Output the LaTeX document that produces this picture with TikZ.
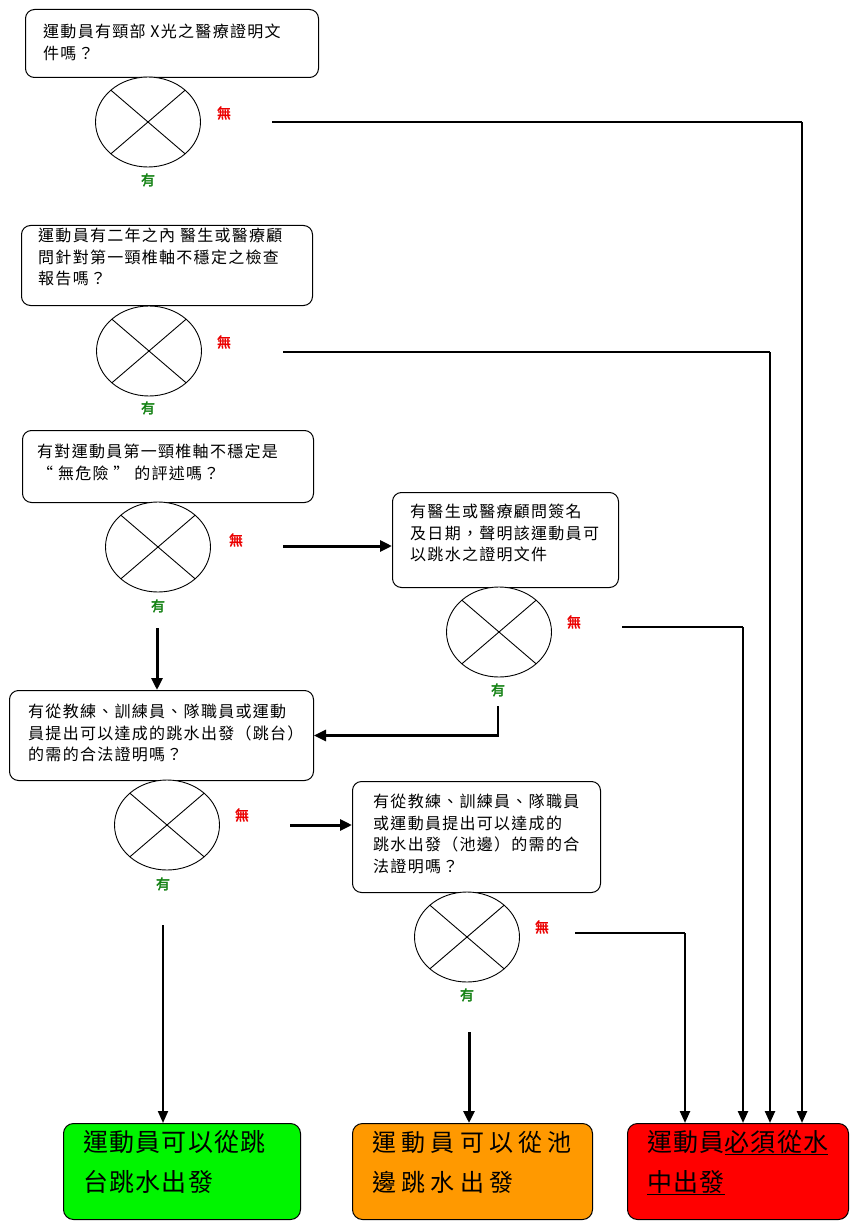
\documentclass[tikz,border=0pt]{standalone}
\usepackage{fontspec}
\setmainfont{Noto Sans CJK TC}
\newfontfamily\boxfont[LetterSpace=8]{Noto Sans CJK TC}
\newfontfamily\endfont[LetterSpace=5]{Noto Sans CJK TC}
\newfontfamily\widefont[LetterSpace=22]{Noto Sans CJK TC}
\newfontfamily\lblfont[FakeBold=2.5]{Noto Sans CJK TC}
\usetikzlibrary{arrows.meta,shapes.geometric}
\definecolor{okgreen}{RGB}{0,245,0}
\definecolor{midorange}{RGB}{255,153,0}
\definecolor{stopred}{RGB}{255,0,0}
\definecolor{yesgreen}{RGB}{20,130,20}
\definecolor{nored}{RGB}{235,0,0}
\begin{document}
\begin{tikzpicture}[x=1pt,y=-1pt,
 qbox/.style={draw, rounded corners=9pt, line width=1pt, fill=white, anchor=north west, inner sep=0pt},
 qtext/.style={anchor=north west, align=left, inner sep=0pt, font=\boxfont\fontsize{16}{21.5}\selectfont},
 endbox/.style={draw, rounded corners=10pt, line width=1pt, anchor=north west, inner sep=0pt},
 endtext/.style={anchor=north west, align=left, inner sep=0pt, font=\endfont\fontsize{25}{40}\selectfont},
 xcirc/.style={draw, ellipse, minimum width=105pt, minimum height=90pt, inner sep=0pt, line width=0.9pt, fill=white,
   path picture={\draw[line width=0.9pt] (path picture bounding box.north west) -- (path picture bounding box.south east)
     (path picture bounding box.north east) -- (path picture bounding box.south west);}},
 nolbl/.style={text=nored, font=\lblfont\fontsize{14}{14}\selectfont, inner sep=0pt},
 yeslbl/.style={text=yesgreen, font=\lblfont\fontsize{14}{14}\selectfont, inner sep=0pt},
 hline/.style={line width=1.3pt},
 varrow/.style={line width=2.4pt, -{Triangle[length=12pt,width=10pt]}},
 bigarrow/.style={line width=3pt, -{Triangle[length=12pt,width=11pt]}},
]
\fill[white] (0,0) rectangle (850,1222);
\useasboundingbox (0,0) rectangle (850,1222);

% question boxes
\node[qbox, minimum width=293pt, minimum height=68pt] (b1) at (25,9) {};
\node[qtext] (t1) at (43,24) {運動員有頸部 X光之醫療證明文\\件嗎？};
\node[qbox, minimum width=291pt, minimum height=80pt] (b2) at (21,225) {};
\node[qtext] (t2) at (38,228) {運動員有二年之內 醫生或醫療顧\\問針對第一頸椎軸不穩定之檢查\\報告嗎？};
\node[qbox, minimum width=291pt, minimum height=72pt] (b3) at (22,430) {};
\node[qtext] (t3) at (37,444) {有對運動員第一頸椎軸不穩定是\\“ 無危險 ” 的評述嗎？};
\node[qbox, minimum width=226pt, minimum height=95pt] (b4) at (392,492) {};
\node[qtext] (t4) at (410,504) {有醫生或醫療顧問簽名\\及日期，聲明該運動員可\\以跳水之證明文件};
\node[qbox, minimum width=304pt, minimum height=90pt] (b5) at (9,690) {};
\node[qtext] (t5) at (28,704) {有從教練、訓練員、隊職員或運動\\員提出可以達成的跳水出發（跳台）\\的需的合法證明嗎？};
\node[qbox, minimum width=248pt, minimum height=111pt] (b6) at (352,781) {};
\node[qtext] (t6) at (373,794) {有從教練、訓練員、隊職員\\或運動員提出可以達成的\\跳水出發（池邊）的需的合\\法證明嗎？};

% decision circles
\node[xcirc] (c1) at (148,122) {};
\node[xcirc] (c2) at (149,351) {};
\node[xcirc] (c3) at (158,547) {};
\node[xcirc] (c4) at (499,632) {};
\node[xcirc] (c5) at (167,825) {};
\node[xcirc] (c6) at (467,937) {};

% labels
\node[nolbl] (n1) at (224,113) {無};
\node[nolbl] (n2) at (224,342) {無};
\node[nolbl] (n3) at (236,540) {無};
\node[nolbl] (n4) at (574,622) {無};
\node[nolbl] (n5) at (242,815) {無};
\node[nolbl] (n6) at (542,927) {無};
\node[yeslbl] (y1) at (148,180) {有};
\node[yeslbl] (y2) at (148,408) {有};
\node[yeslbl] (y3) at (158,606) {有};
\node[yeslbl] (y4) at (498,690) {有};
\node[yeslbl] (y5) at (163,884) {有};
\node[yeslbl] (y6) at (467,995) {有};

% end boxes
\node[endbox, fill=okgreen, minimum width=237pt, minimum height=96pt] (g) at (63,1123) {};
\node[endtext] (gt) at (83,1130) {運動員可以從跳\\台跳水出發};
\node[endbox, fill=midorange, minimum width=240pt, minimum height=96pt] (o) at (352,1123) {};
\node[endtext, font=\widefont\fontsize{24}{40}\selectfont] (ot) at (372,1131) {運動員可以從池\\邊跳水出發};
\node[endbox, fill=stopred, minimum width=221pt, minimum height=96pt] (r) at (627,1123) {};
\node[endtext] (rt) at (647,1130) {運動員\underline{必須從水}\\\underline{中出發}};

% connector coordinates
\coordinate (s1) at (272,122);
\coordinate (k1) at (802,122);
\coordinate (s2) at (283,352);
\coordinate (k2) at (770,352);
\coordinate (s3) at (283,546);
\coordinate (s4) at (622,627);
\coordinate (k4) at (743,627);
\coordinate (s45) at (498,706);
\coordinate (s35) at (157,628);
\coordinate (s5) at (290,825);
\coordinate (s6) at (575,933);
\coordinate (k6) at (685,933);
\coordinate (sg) at (163,925);
\coordinate (so) at (469,1032);

% "no" paths to red box
\draw[hline] (s1) -- (k1);
\draw[varrow] (k1) -- (r.north -| k1);
\draw[hline] (s2) -- (k2);
\draw[varrow] (k2) -- (r.north -| k2);
\draw[hline] (s4) -- (k4);
\draw[varrow] (k4) -- (r.north -| k4);
\draw[hline] (s6) -- (k6);
\draw[varrow] (k6) -- (r.north -| k6);

% other arrows
\draw[bigarrow] (s3) -- (s3 -| b4.west);
\draw[bigarrow] (s5) -- (s5 -| b6.west);
\draw[line width=2.6pt, -{Triangle[length=12pt,width=11pt]}] (s45) |- (b5.east);
\draw[bigarrow] (s35) -- (s35 |- b5.north);
\draw[line width=2pt, -{Triangle[length=12pt,width=10pt]}] (sg) -- (sg |- g.north);
\draw[bigarrow] (so) -- (so |- o.north);
\end{tikzpicture}
\end{document}
